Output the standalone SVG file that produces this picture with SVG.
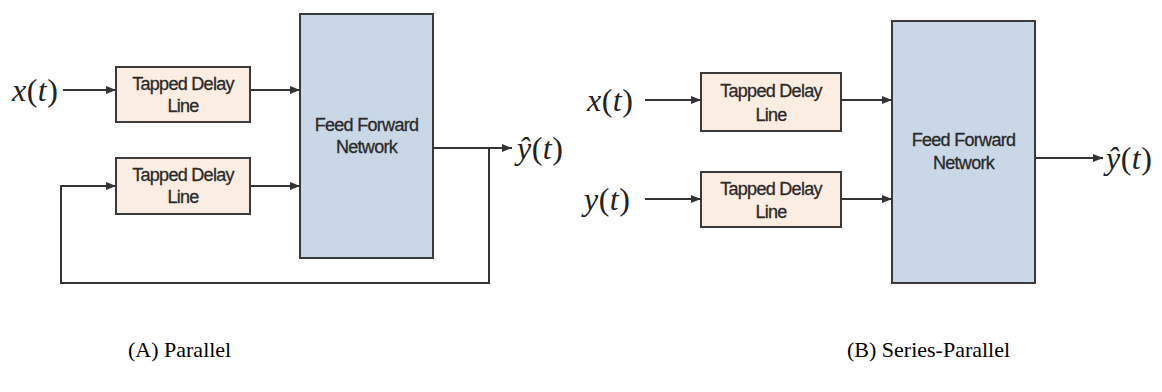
<svg xmlns="http://www.w3.org/2000/svg" width="1162" height="392" viewBox="0 0 1162 392">
  <style>
    .tdl { fill: #fcede2; stroke: #3a3a3a; stroke-width: 2; }
    .ffn { fill: #c9d7e6; stroke: #3a3a3a; stroke-width: 2; }
    .lbl { font-family: "Liberation Sans", Arial, sans-serif; font-size: 18px; fill: #2a2a2a; stroke: #2a2a2a; stroke-width: 0.3; text-anchor: middle; letter-spacing: -0.7px; }
    .math { font-family: "Liberation Serif", "Times New Roman", serif; font-size: 32px; fill: #222; letter-spacing: 0.5px; }
    .it { font-style: italic; }
    .cap { font-family: "Liberation Serif", "Times New Roman", serif; font-size: 22px; fill: #000; }
    .wire { fill: none; stroke: #333; stroke-width: 2; }
  </style>
  <defs>
    <marker id="arrow" viewBox="0 0 10 8" refX="10" refY="4" markerWidth="10" markerHeight="8" markerUnits="userSpaceOnUse" orient="auto">
      <path d="M0,0 L10,4 L0,8 Z" fill="#333"/>
    </marker>
  </defs>

  <!-- (A) Parallel architecture -->
  <g id="a-x-label"><text class="math" x="12" y="101"><tspan class="it">x</tspan>(<tspan class="it">t</tspan>)</text></g>
  <g id="a-tdl-1">
    <rect class="tdl" x="116" y="67" width="134" height="55"/>
    <text class="lbl" x="183" y="90">Tapped Delay</text>
    <text class="lbl" x="183" y="112">Line</text>
  </g>
  <g id="a-tdl-2">
    <rect class="tdl" x="116" y="158" width="134" height="56"/>
    <text class="lbl" x="183" y="181">Tapped Delay</text>
    <text class="lbl" x="183" y="203">Line</text>
  </g>
  <g id="a-ffn">
    <rect class="ffn" x="300" y="14" width="133" height="244"/>
    <text class="lbl" x="366.5" y="131">Feed Forward</text>
    <text class="lbl" x="366.5" y="153">Network</text>
  </g>
  <g id="a-yhat-label"><text class="math" x="517" y="159"><tspan class="it">ŷ</tspan>(<tspan class="it">t</tspan>)</text></g>

  <!-- (B) Series-Parallel architecture -->
  <g id="b-x-label"><text class="math" x="587" y="111"><tspan class="it">x</tspan>(<tspan class="it">t</tspan>)</text></g>
  <g id="b-y-label"><text class="math" x="584" y="210"><tspan class="it">y</tspan>(<tspan class="it">t</tspan>)</text></g>
  <g id="b-tdl-1">
    <rect class="tdl" x="701" y="73" width="140" height="58"/>
    <text class="lbl" x="771" y="97">Tapped Delay</text>
    <text class="lbl" x="771" y="121">Line</text>
  </g>
  <g id="b-tdl-2">
    <rect class="tdl" x="701" y="172" width="140" height="55"/>
    <text class="lbl" x="771" y="195">Tapped Delay</text>
    <text class="lbl" x="771" y="218">Line</text>
  </g>
  <g id="b-ffn">
    <rect class="ffn" x="892" y="21" width="143" height="262"/>
    <text class="lbl" x="963.5" y="146">Feed Forward</text>
    <text class="lbl" x="963.5" y="169">Network</text>
  </g>
  <g id="b-yhat-label"><text class="math" x="1106" y="169"><tspan class="it">ŷ</tspan>(<tspan class="it">t</tspan>)</text></g>

  <!-- connectors -->
  <g id="connectors">
    <line class="wire" x1="63" y1="90" x2="116" y2="90" marker-end="url(#arrow)"/>
    <line class="wire" x1="250" y1="90" x2="300" y2="90" marker-end="url(#arrow)"/>
    <line class="wire" x1="250" y1="186" x2="300" y2="186" marker-end="url(#arrow)"/>
    <line class="wire" x1="433" y1="148" x2="512" y2="148" marker-end="url(#arrow)"/>
    <polyline class="wire" points="489,148 489,283 61,283 61,186 116,186" marker-end="url(#arrow)"/>

    <line class="wire" x1="645" y1="100" x2="701" y2="100" marker-end="url(#arrow)"/>
    <line class="wire" x1="645" y1="199" x2="701" y2="199" marker-end="url(#arrow)"/>
    <line class="wire" x1="841" y1="100" x2="892" y2="100" marker-end="url(#arrow)"/>
    <line class="wire" x1="841" y1="199" x2="892" y2="199" marker-end="url(#arrow)"/>
    <line class="wire" x1="1035" y1="158" x2="1103" y2="158" marker-end="url(#arrow)"/>
  </g>

  <!-- captions -->
  <text class="cap" x="128" y="357">(A) Parallel</text>
  <text class="cap" x="847" y="357">(B) Series-Parallel</text>
</svg>
